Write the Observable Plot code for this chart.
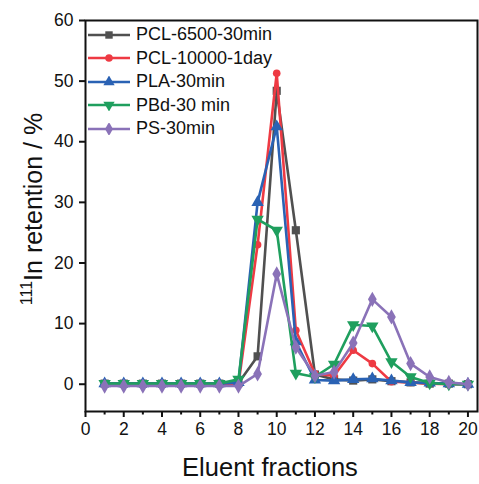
<!DOCTYPE html>
<html>
<head>
<meta charset="utf-8">
<script src="https://cdn.jsdelivr.net/npm/d3@7"></script>
<script src="https://cdn.jsdelivr.net/npm/@observablehq/plot@0.6"></script>
<style>
  html, body { margin: 0; padding: 0; background: #fff; }
  #wrap { position: relative; width: 479px; height: 484px; font-family: "Liberation Sans", Arial, sans-serif; }
  #legend { position: absolute; left: 88px; top: 23px; }
  .li { display: flex; align-items: center; height: 23.5px; font-size: 18px; color: #111; }
  .li svg { margin-right: 5px; }
</style>
</head>
<body>
<div id="wrap"></div>
<script>
const fractions = [1,2,3,4,5,6,7,8,9,10,11,12,13,14,15,16,17,18,19,20];
const seriesNames = ["PCL-6500-30min", "PCL-10000-1day", "PLA-30min", "PBd-30 min", "PS-30min"];
const pcl6500 = [0.1,0.1,0.1,0.1,0.1,0.1,0.1,0.2,4.6,48.4,25.4,1.6,0.8,0.6,0.8,0.5,0.3,0.1,0.1,0.0];
const pcl10000 = [0.0,0.0,0.0,0.0,0.0,0.0,0.0,0.0,23.0,51.3,8.9,1.7,1.4,5.6,3.4,0.4,0.3,0.1,0.0,0.0];
const pla = [0.1,0.1,0.1,0.1,0.1,0.1,0.1,0.3,30.0,42.5,7.0,0.7,0.6,0.8,0.9,0.6,0.3,0.2,0.1,0.0];
const pbd = [0.1,0.1,0.1,0.1,0.1,0.1,0.1,0.8,27.2,25.4,1.8,1.2,3.3,9.8,9.6,3.7,1.2,0.2,0.0,0.0];
const ps = [-0.3,-0.3,-0.3,-0.3,-0.3,-0.3,-0.3,-0.3,1.7,18.2,6.1,1.4,2.0,6.8,14.0,11.1,3.4,1.2,0.3,0.0];
const xTicks = [0,2,4,6,8,10,12,14,16,18,20];
const xMinorTicks = [1,3,5,7,9,11,13,15,17,19];
const yTicks = [0,10,20,30,40,50,60];

const colors = ["#505050", "#ee3a43", "#2a62b4", "#1f9f5e", "#8a72b8"];
const symbols = ["square", "circle", "triangle", "triangle", "diamond"];
const rotates = [0, 0, 0, 180, 0];
const allValues = [pcl6500, pcl10000, pla, pbd, ps];

const data = [];
seriesNames.forEach((s, i) => {
  fractions.forEach((f, j) => data.push({series: s, idx: i, x: f, y: allValues[i][j]}));
});

const marks = [];
seriesNames.forEach((s, i) => {
  const d = data.filter(r => r.idx === i);
  marks.push(Plot.line(d, {x: "x", y: "y", stroke: colors[i], strokeWidth: 2.6}));
  marks.push(Plot.dot(d, {x: "x", y: "y", fill: colors[i], stroke: "none", symbol: symbols[i], r: symbols[i] === "circle" ? 3.8 : 4.6, rotate: rotates[i]}));
});

const chart = Plot.plot({
  width: 479,
  height: 484,
  marginLeft: 85,
  marginRight: 2,
  marginTop: 20,
  marginBottom: 73,
  style: {fontFamily: "'Liberation Sans', Arial, sans-serif", background: "#fff", color: "#111"},
  x: {domain: [0, 20.5]},
  y: {domain: [-4.5, 60]},
  marks: [
    Plot.axisX({ticks: xTicks, tickSize: 6, tickPadding: 5, fontSize: 17.5, label: null, strokeWidth: 2, fill: "#111"}),
    Plot.axisX({ticks: xMinorTicks, tickSize: 3.5, tickFormat: () => "", label: null, strokeWidth: 2}),
    Plot.axisY({ticks: yTicks, tickSize: 6, tickPadding: 6, fontSize: 17.5, label: null, strokeWidth: 2, fill: "#111"}),
    ...marks,
    Plot.frame({stroke: "#111", strokeWidth: 2})
  ]
});

const svg = d3.select(chart);
// x label
svg.append("text")
  .attr("x", 270).attr("y", 476)
  .attr("text-anchor", "middle")
  .attr("font-size", 25.5)
  .attr("fill", "#111")
  .text("Eluent fractions");
// y label with superscript
const yl = svg.append("text")
  .attr("transform", "translate(42,209) rotate(-90)")
  .attr("text-anchor", "middle")
  .attr("font-size", 25)
  .attr("fill", "#111");
yl.append("tspan").attr("font-size", 16).attr("dy", -10).text("111");
yl.append("tspan").attr("dy", 10).text("In retention / %");

const wrap = document.getElementById("wrap");
wrap.appendChild(chart);

// legend
const legend = document.createElement("div");
legend.id = "legend";
seriesNames.forEach((s, i) => {
  const row = document.createElement("div");
  row.className = "li";
  const ls = d3.create("svg").attr("width", 43).attr("height", 12);
  ls.append("line").attr("x1", 0).attr("x2", 42).attr("y1", 6).attr("y2", 6)
    .attr("stroke", colors[i]).attr("stroke-width", 2.6);
  const sym = {square: d3.symbolSquare, circle: d3.symbolCircle, triangle: d3.symbolTriangle, diamond: d3.symbolDiamond}[symbols[i]];
  const size = symbols[i] === "circle" ? 45 : 55;
  ls.append("path").attr("d", d3.symbol(sym, size)())
    .attr("transform", `translate(21,6) rotate(${rotates[i]})`)
    .attr("fill", colors[i]);
  row.appendChild(ls.node());
  const t = document.createElement("span");
  t.textContent = s;
  row.appendChild(t);
  legend.appendChild(row);
});
wrap.appendChild(legend);
</script>
</body>
</html>
